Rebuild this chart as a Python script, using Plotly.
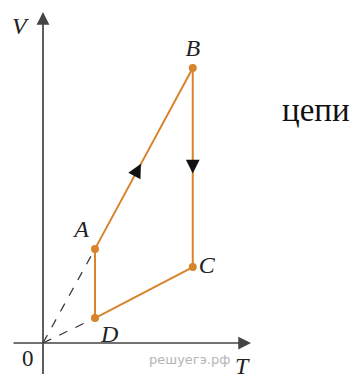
import plotly.graph_objects as go

# cycle points on V-T diagram
labels = ["A", "B", "C", "D"]
T = [1.0, 2.88, 2.88, 1.0]
V = [1.81, 5.29, 1.46, 0.48]

orange = "#d8842c"
W, H = 358, 374
unit = 52.0
ox, oy = 43, 343  # origin in reference pixels
pad = 8  # page body margin
serif = "Liberation Serif"


def px(x, y):
    return (x - ox) / unit, (oy - y) / unit


def paper(x, y):
    return (x - pad) / W, 1 - (y - pad) / H


fig = go.Figure()

# dashed isobars from origin
for i in (0, 3):
    fig.add_trace(go.Scatter(x=[0, T[i]], y=[0, V[i]], mode="lines",
                             line=dict(color="#333", width=1.2, dash="dash"),
                             hoverinfo="skip"))

# cycle A-B-C-D-A
fig.add_trace(go.Scatter(x=T + [T[0]], y=V + [V[0]], mode="lines",
                         line=dict(color=orange, width=2), hoverinfo="skip"))
fig.add_trace(go.Scatter(x=T, y=V, mode="markers+text",
                         text=["<i>%s</i>" % s for s in labels],
                         textposition=["top left", "top center",
                                       "middle right", "bottom right"],
                         textfont=dict(family=serif, size=24, color="#222"),
                         marker=dict(color=orange, size=8), hoverinfo="skip"))

# direction arrows along each segment
fracs = [0.47, 0.53, 0.52, 0.55]
for i in range(4):
    j = (i + 1) % 4
    f = fracs[i]
    hx = T[i] + (T[j] - T[i]) * f
    hy = V[i] + (V[j] - V[i]) * f
    tx = T[i] + (T[j] - T[i]) * (f - 0.04)
    ty = V[i] + (V[j] - V[i]) * (f - 0.04)
    fig.add_annotation(x=hx, y=hy, ax=tx, ay=ty, xref="x", yref="y",
                       axref="x", ayref="y", text="", showarrow=True,
                       arrowhead=2, arrowsize=2.3, arrowwidth=1.2,
                       arrowcolor="#111")

# coordinate axes
x0, y0 = px(43, 380)
x1, y1 = px(43, 12)
fig.add_annotation(x=x1, y=y1, ax=x0, ay=y0, xref="x", yref="y", axref="x",
                   ayref="y", text="", showarrow=True, arrowhead=2,
                   arrowsize=1.5, arrowwidth=1.7, arrowcolor="#444")
x0, y0 = px(12, 343)
x1, y1 = px(251, 343)
fig.add_annotation(x=x1, y=y1, ax=x0, ay=y0, xref="x", yref="y", axref="x",
                   ayref="y", text="", showarrow=True, arrowhead=2,
                   arrowsize=1.5, arrowwidth=1.7, arrowcolor="#444")

texts = [("<i>V</i>", 20, 26, 24, serif, "#222"),
         ("<i>T</i>", 243, 366, 24, serif, "#222"),
         ("0", 28, 358, 23, serif, "#222"),
         ("цепи", 316, 110, 33, serif, "#111"),
         ("решуегэ.рф", 189, 359, 13, "DejaVu Sans", "#b5b5b5")]
for t, x, y, s, fam, col in texts:
    dx, dy = paper(x, y)
    fig.add_annotation(x=dx, y=dy, xref="paper", yref="paper", text=t,
                       xanchor="center", yanchor="middle", showarrow=False,
                       font=dict(family=fam, size=s, color=col))

# map the plot area so reference pixels land in place (body margin offset)
xa, _ = px(pad, 0)
xb, _ = px(W + pad, 0)
_, ya = px(0, H + pad)
_, yb = px(0, pad)
fig.update_layout(width=W, height=H, margin=dict(l=0, r=0, t=0, b=0),
                  plot_bgcolor="white", paper_bgcolor="white",
                  showlegend=False,
                  xaxis=dict(range=[xa, xb], visible=False, fixedrange=True),
                  yaxis=dict(range=[ya, yb], visible=False, fixedrange=True))
fig.write_html("out.html")
